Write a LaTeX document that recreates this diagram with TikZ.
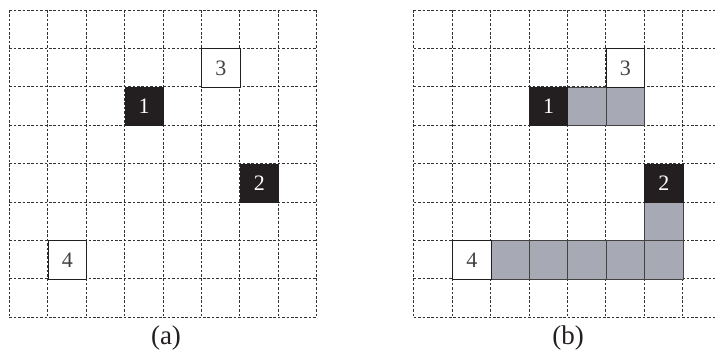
\documentclass[tikz,border=0pt]{standalone}
\usepackage{fontspec}
\setmainfont{Liberation Serif}
\definecolor{graycol}{HTML}{A7AAB4}
\definecolor{inkcol}{HTML}{231F20}
\begin{document}
\begin{tikzpicture}[x=1pt,y=-1pt,
 gridline/.style={draw=black!80, dash pattern=on 2.6pt off 1.8pt, line width=0.7pt},
 cellbox/.style={minimum width=38.4pt, minimum height=38.4pt, inner sep=0pt, line width=0.9pt, font=\fontsize{22}{22}\selectfont, anchor=north west},
 whitecell/.style={cellbox, draw=inkcol, fill=white, text=inkcol!85},
 blackcell/.style={cellbox, draw=inkcol, fill=inkcol, text=white},
 graycell/.style={cellbox, draw=inkcol!85, fill=graycol},
 caption/.style={font=\fontsize{27}{27}\selectfont, text=inkcol, inner sep=0pt},
]
\useasboundingbox (0,0) rectangle (715,353);
\clip (0,0) rectangle (715,353);
\def\c{38.4}
% grids
\foreach \ox/\g in {9.3/a, 413.8/b}{
  \foreach \i in {0,...,8}{
    \draw[gridline] (\ox+\i*\c, 10) -- (\ox+\i*\c, 10+8*\c);
    \draw[gridline] (\ox, 10+\i*\c) -- (\ox+8*\c, 10+\i*\c);
  }
}
% (a)
\def\ox{9.3}
\node[whitecell] (a3) at (\ox+5*\c, 10+1*\c) {3};
\node[blackcell] (a1) at (\ox+3*\c, 10+2*\c) {1};
\node[blackcell] (a2) at (\ox+6*\c, 10+4*\c) {2};
\node[whitecell] (a4) at (\ox+1*\c, 10+6*\c) {4};
% (b)
\def\ox{413.8}
\node[graycell] (bg1) at (\ox+4*\c, 10+2*\c) {};
\node[graycell] (bg2) at (\ox+5*\c, 10+2*\c) {};
\node[graycell] (bg3) at (\ox+6*\c, 10+5*\c) {};
\node[graycell] (bg4) at (\ox+2*\c, 10+6*\c) {};
\node[graycell] (bg5) at (\ox+3*\c, 10+6*\c) {};
\node[graycell] (bg6) at (\ox+4*\c, 10+6*\c) {};
\node[graycell] (bg7) at (\ox+5*\c, 10+6*\c) {};
\node[graycell] (bg8) at (\ox+6*\c, 10+6*\c) {};
\node[whitecell] (b3) at (\ox+5*\c, 10+1*\c) {3};
\node[blackcell] (b1) at (\ox+3*\c, 10+2*\c) {1};
\node[blackcell] (b2) at (\ox+6*\c, 10+4*\c) {2};
\node[whitecell] (b4) at (\ox+1*\c, 10+6*\c) {4};
% captions
\node[caption] (la) at (166, 338) {(a)};
\node[caption] (lb) at (568, 338) {(b)};
\end{tikzpicture}
\end{document}
